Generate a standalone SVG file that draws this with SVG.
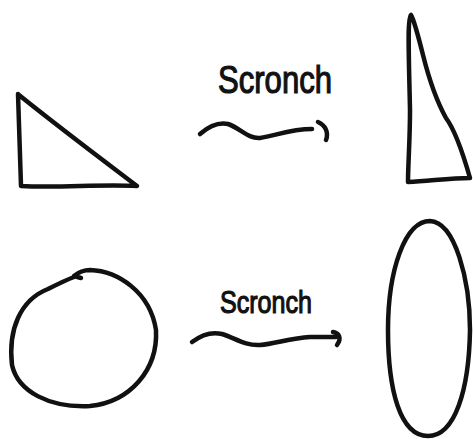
<svg xmlns="http://www.w3.org/2000/svg" width="473" height="439" viewBox="0 0 473 439">
<style>
.ink{fill:none;stroke:#111;stroke-width:4.5;stroke-linecap:round;stroke-linejoin:round}
.lbl{font-family:"Liberation Sans",Arial,sans-serif;fill:#111;stroke:#111;stroke-width:1.2}
</style>
<rect width="473" height="439" fill="#fff"/>
<g id="triangle">
<path class="ink" d="M18,94 C19,120 20,160 21,186 C60,188 100,184 137,186 C100,158 60,128 19,95"/>
</g>
<g id="tall-triangle">
<path class="ink" d="M411,15 C407,18 409,60 410,110 C410,140 408,165 408,182 C430,181 450,178 470,178 C462,150 455,130 446,118 C436,100 428,75 423,55 C418,35 414,20 411,15"/>
</g>
<g id="circle">
<path class="ink" d="M81,278 L74,276 C80,271 85,270 90,270 C118,271 150,292 156,330 C158,370 130,402 90,406 C50,408 18,392 12,365 C8,330 20,300 48,289 C58,284 66,280 74,277"/>
</g>
<g id="ellipse">
<path class="ink" d="M430,221 C455,222 470,280 470,330 C469,390 455,436 428,436 C400,436 388,390 388,330 C388,270 405,221 430,221 Z"/>
</g>
<g id="labels">
<text class="lbl" x="218" y="93" font-size="38" textLength="114" lengthAdjust="spacingAndGlyphs">Scronch</text>
<text class="lbl" x="220" y="313" font-size="32" textLength="92" lengthAdjust="spacingAndGlyphs">Scronch</text>
</g>
<g id="connectors">
<path class="ink" d="M200,134 C208,127 218,122 228,124 C240,128 248,139 260,138 C275,136 290,129 312,129"/>
<path class="ink" d="M318,122 C325,125 329,132 326,140"/>
<path class="ink" d="M192,342 C200,336 210,331 222,334 C235,338 245,346 260,345 C275,344 290,338 310,337 C320,337 330,337 336,337"/>
<path class="ink" d="M333,332 C339,333 342,338 337,345"/>
</g>
</svg>
